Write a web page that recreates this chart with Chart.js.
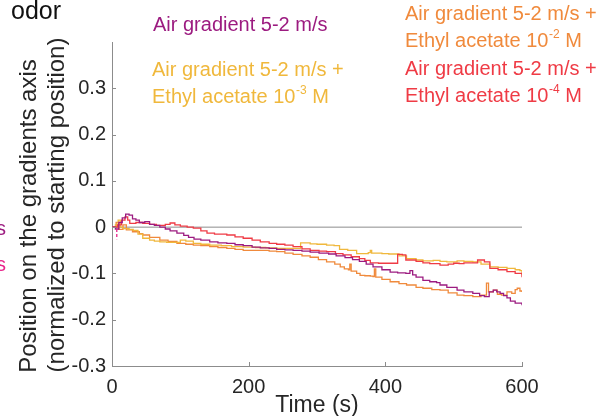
<!DOCTYPE html>
<html><head><meta charset="utf-8">
<script src="https://cdn.jsdelivr.net/npm/chart.js@4/dist/chart.umd.min.js"></script>
<style>html,body{margin:0;padding:0;background:#fff;overflow:hidden}</style>
</head><body>
<canvas id="c" width="613" height="416"></canvas>
<script>
// ---- data ----
const xTicks = [0, 200, 400, 600];
const yTicks = [-0.3, -0.2, -0.1, 0, 0.1, 0.2, 0.3];
const xTitle = 'Time (s)';
const yTitle = ['Position on the gradients axis', '(normalized to starting position)'];
const seriesNames = ['Air gradient 5-2 m/s', 'Air gradient 5-2 m/s +'];

const purpleT = [0,5,10,15,20,25,30,35,40,48,55,62,70,78,85,95,105,112,120,130,143,155,168,180,192,205,217,230,241,253,265,278,290,303,317,328,341,352,362,372,382,395,407,418,430,436,440,445,455,465,475,480,490,505,515,528,538,545,552,558,563,568,573,578,583,590,600];
const purpleV = [0,-0.004,0.01,0.02,0.028,0.026,0.018,0.015,0.01,0.012,0.006,0.004,0.0,-0.004,-0.008,-0.013,-0.018,-0.022,-0.026,-0.028,-0.032,-0.034,-0.035,-0.038,-0.04,-0.043,-0.045,-0.046,-0.048,-0.049,-0.05,-0.052,-0.054,-0.056,-0.058,-0.062,-0.066,-0.07,-0.074,-0.08,-0.086,-0.092,-0.097,-0.099,-0.1,-0.094,-0.103,-0.108,-0.115,-0.118,-0.12,-0.125,-0.13,-0.136,-0.14,-0.143,-0.148,-0.15,-0.14,-0.136,-0.14,-0.143,-0.148,-0.153,-0.16,-0.164,-0.169];

const yellowT = [0,5,9,12,16,25,31,38,45,55,62,70,80,95,100,108,119,130,143,160,175,192,210,225,241,255,270,276,290,300,314,325,333,345,358,375,378,380,395,405,417,420,431,445,455,470,480,490,505,515,528,540,553,565,578,590,597,600];
const yellowV = [0,0.005,0.015,0.0,-0.003,-0.005,-0.007,-0.015,-0.024,-0.028,-0.03,-0.032,-0.033,-0.033,-0.028,-0.03,-0.035,-0.037,-0.039,-0.04,-0.042,-0.043,-0.044,-0.045,-0.046,-0.046,-0.046,-0.034,-0.036,-0.037,-0.039,-0.04,-0.048,-0.05,-0.057,-0.055,-0.05,-0.056,-0.057,-0.058,-0.058,-0.062,-0.068,-0.071,-0.073,-0.072,-0.074,-0.075,-0.073,-0.074,-0.075,-0.08,-0.086,-0.087,-0.089,-0.092,-0.094,-0.104];

const orangeT = [0,6,10,16,21,30,40,45,55,70,82,95,108,119,130,143,155,168,180,192,205,217,230,241,253,265,278,290,302,314,326,334,340,346,348,350,358,363,370,378,382,384,386,395,407,420,431,445,455,468,480,492,505,515,528,540,548,551,558,564,570,578,585,590,593,597,600];
const orangeV = [0,0.01,-0.005,0.005,-0.006,-0.01,-0.014,-0.017,-0.022,-0.028,-0.031,-0.035,-0.037,-0.039,-0.04,-0.042,-0.044,-0.046,-0.048,-0.05,-0.05,-0.05,-0.052,-0.053,-0.056,-0.059,-0.062,-0.065,-0.07,-0.075,-0.08,-0.086,-0.09,-0.092,-0.08,-0.095,-0.1,-0.104,-0.105,-0.106,-0.107,-0.09,-0.108,-0.113,-0.118,-0.122,-0.125,-0.13,-0.132,-0.135,-0.136,-0.142,-0.147,-0.148,-0.15,-0.147,-0.121,-0.14,-0.136,-0.145,-0.147,-0.14,-0.143,-0.135,-0.132,-0.138,-0.14];

const redT = [0,8,14,19,23,26,35,45,55,65,78,85,92,100,110,119,130,139,150,168,180,192,205,217,230,241,253,265,278,290,303,314,327,338,350,362,370,378,390,405,417,418,425,430,445,455,465,480,492,500,508,515,528,535,545,553,565,578,590,600];
const redV = [0,0.005,0.015,0.022,0.015,0.008,0.01,0.008,0.006,0.004,0.006,0.009,0.005,0.002,0.0,-0.002,-0.008,-0.013,-0.015,-0.017,-0.021,-0.024,-0.028,-0.032,-0.035,-0.037,-0.039,-0.042,-0.047,-0.05,-0.052,-0.053,-0.057,-0.06,-0.064,-0.068,-0.072,-0.077,-0.078,-0.078,-0.078,-0.059,-0.06,-0.071,-0.074,-0.077,-0.079,-0.082,-0.08,-0.078,-0.079,-0.077,-0.077,-0.071,-0.075,-0.089,-0.092,-0.096,-0.1,-0.108];

const pinkT = [7,7];
const pinkV = [-0.004,-0.026];
const zeroT = [0,600];
const zeroV = [0,0];

// ---- style ----
const FAM = '"Liberation Sans", Arial, Helvetica, sans-serif';
const AX = '#8c8c8c';
const TXT = '#262626';
const C_PURPLE = '#9c1b80';
const C_YELLOW = '#f0b83c';
const C_ORANGE = '#f08a3c';
const C_RED = '#ef3b45';
const C_PINK = '#e8238a';

const pts = (T, V) => T.map((t, i) => ({x: t, y: V[i]}));

function supText(ctx, x, y, base, sup, tail, color) {
  ctx.fillStyle = color;
  ctx.font = '20px ' + FAM;
  ctx.fillText(base, x, y);
  const w = ctx.measureText(base).width;
  ctx.font = '12px ' + FAM;
  ctx.fillText(sup, x + w + 0.5, y - 9);
  const w2 = ctx.measureText(sup).width;
  ctx.font = '20px ' + FAM;
  ctx.fillText(tail, x + w + 0.5 + w2, y);
}

const decor = {
  id: 'decor',
  afterDraw(chart) {
    const {ctx, scales: {x, y}} = chart;
    ctx.save();
    // inward ticks
    ctx.strokeStyle = AX; ctx.lineWidth = 1;
    ctx.beginPath();
    yTicks.forEach(v => { const py = Math.round(y.getPixelForValue(v)) + 0.5; ctx.moveTo(x.left, py); ctx.lineTo(x.left + 4, py); });
    xTicks.forEach(v => { if (v === 0) return; const px = Math.round(x.getPixelForValue(v)) + 0.5; ctx.moveTo(px, y.bottom); ctx.lineTo(px, y.bottom - 4); });
    ctx.stroke();
    // y axis title (two lines, rotated)
    ctx.fillStyle = TXT;
    ctx.font = '24px ' + FAM;
    ctx.textAlign = 'center';
    ctx.textBaseline = 'middle';
    [[yTitle[0], 29, 216], [yTitle[1], 57, 205]].forEach(([t, cx, cy]) => {
      ctx.save(); ctx.translate(cx, cy); ctx.rotate(-Math.PI / 2); ctx.fillText(t, 0, 0); ctx.restore();
    });
    // texts
    ctx.textBaseline = 'alphabetic';
    ctx.textAlign = 'left';
    ctx.fillStyle = '#111';
    ctx.font = '25px ' + FAM;
    ctx.fillText('odor', 11, 19);
    ctx.font = '20px ' + FAM;
    ctx.textAlign = 'right';
    ctx.fillStyle = C_PURPLE; ctx.fillText('s', 6, 235);
    ctx.fillStyle = C_PINK; ctx.fillText('s', 6, 271);
    ctx.textAlign = 'left';
    ctx.fillStyle = C_PURPLE; ctx.fillText(seriesNames[0], 153, 31);
    ctx.fillStyle = C_YELLOW; ctx.fillText(seriesNames[1], 152, 76);
    supText(ctx, 152, 103, 'Ethyl acetate 10', '-3', ' M', C_YELLOW);
    ctx.fillStyle = C_ORANGE; ctx.fillText(seriesNames[1], 405, 20);
    supText(ctx, 405, 47, 'Ethyl acetate 10', '-2', ' M', C_ORANGE);
    ctx.fillStyle = C_RED; ctx.fillText(seriesNames[1], 405, 75);
    supText(ctx, 405, 102, 'Ethyl acetate 10', '-4', ' M', C_RED);
    ctx.restore();
  }
};

const ds = (T, V, color, order, extra) => Object.assign({
  data: pts(T, V), borderColor: color, backgroundColor: color, borderWidth: 1.3,
  pointRadius: 0, stepped: true, fill: false, order: order
}, extra || {});

new Chart(document.getElementById('c'), {
  type: 'line',
  data: {
    datasets: [
      ds(zeroT, zeroV, AX, 10, {stepped: false, borderWidth: 1}),
      ds(orangeT, orangeV, C_ORANGE, 4),
      ds(yellowT, yellowV, C_YELLOW, 3),
      ds(redT, redV, C_RED, 2),
      ds(purpleT, purpleV, C_PURPLE, 1),
      ds(pinkT, pinkV, C_PINK, 0, {stepped: false, borderDash: [3, 2]})
    ]
  },
  options: {
    responsive: false, animation: false, events: [],
    layout: {padding: {left: 0, top: 42, right: 91, bottom: 0}},
    plugins: {legend: {display: false}, tooltip: {enabled: false}},
    scales: {
      x: {
        type: 'linear', min: 0, max: 600,
        afterBuildTicks: s => { s.ticks = xTicks.map(v => ({value: v})); },
        grid: {display: false, drawTicks: false},
        border: {display: true, color: AX, width: 1},
        ticks: {font: {size: 20, family: FAM}, color: TXT, padding: 9, maxRotation: 0, autoSkip: false},
        title: {display: true, text: xTitle, font: {size: 23, family: FAM, lineHeight: 1.2}, color: TXT, padding: {top: 0, bottom: -3}},
        afterFit: s => { s.height = 50; }
      },
      y: {
        type: 'linear', min: -0.3, max: 0.4,
        afterBuildTicks: s => { s.ticks = yTicks.map(v => ({value: v})); },
        grid: {display: false, drawTicks: false},
        border: {display: true, color: AX, width: 1},
        ticks: {font: {size: 20, family: FAM}, color: TXT, padding: 6, autoSkip: false,
          callback: v => (v === 0 ? '0' : Number(v).toFixed(1))},
        title: {display: false},
        afterFit: s => { s.width = 112; }
      }
    }
  },
  plugins: [decor]
});
</script>
</body></html>
